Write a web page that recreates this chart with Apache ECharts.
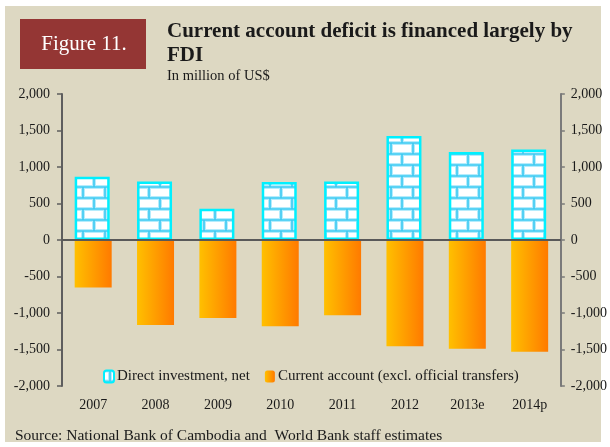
<!DOCTYPE html>
<html>
<head>
<meta charset="utf-8">
<script src="https://cdn.jsdelivr.net/npm/echarts@6/dist/echarts.min.js"></script>
<style>
  html, body { margin: 0; padding: 0; background: #fff; }
  #chart { width: 610px; height: 447px; }
</style>
</head>
<body>
<div id="chart"></div>
<script>
// values (million US$)
const years = ['2007', '2008', '2009', '2010', '2011', '2012', '2013e', '2014p']
const directInvestment = [868, 800, 428, 795, 800, 1425, 1205, 1240]
const currentAccount = [-650, -1165, -1070, -1180, -1030, -1455, -1490, -1530]
const yTicks = { min: -2000, max: 2000, step: 500 }

const serif = '"Liberation Serif", "DejaVu Serif", serif'
const beige = '#DDD8C2'
const textColor = '#1a1a1a'

// light-blue brick texture used for the FDI bars
function brickPattern() {
  const c = document.createElement('canvas')
  c.width = 22
  c.height = 22
  const g = c.getContext('2d')
  g.fillStyle = '#ffffff'
  g.fillRect(0, 0, 22, 22)
  const lines = () => {
    g.beginPath()
    g.moveTo(0, 0); g.lineTo(22, 0)
    g.moveTo(0, 11); g.lineTo(22, 11)
    g.moveTo(0, 22); g.lineTo(22, 22)
    g.moveTo(6, 0); g.lineTo(6, 11)
    g.moveTo(17, 11); g.lineTo(17, 22)
    g.stroke()
  }
  g.strokeStyle = '#b5ecfc'
  g.lineWidth = 4
  lines()
  g.strokeStyle = '#3ccaf2'
  g.lineWidth = 1.6
  lines()
  return c
}

const chart = echarts.init(document.getElementById('chart'), null, { renderer: 'canvas' })

const fmt = v => v.toLocaleString('en-US')

chart.setOption({
  backgroundColor: '#ffffff',
  animation: false,
  textStyle: { fontFamily: serif },
  graphic: [
    { type: 'rect', z: -10, shape: { x: 5, y: 6, width: 596, height: 436 }, style: { fill: beige } },
    { type: 'rect', shape: { x: 20, y: 19, width: 126, height: 50 }, style: { fill: '#943634' } },
    {
      type: 'text', x: 84, y: 44,
      style: { text: 'Figure 11.', fill: '#ffffff', font: '21px ' + serif, align: 'center', verticalAlign: 'middle' }
    },
    {
      type: 'text', x: 15, y: 436,
      style: { text: 'Source: National Bank of Cambodia and  World Bank staff estimates', fill: textColor, font: '15.5px ' + serif, verticalAlign: 'middle' }
    }
  ],
  title: {
    text: 'Current account deficit is financed largely by\nFDI',
    subtext: 'In million of US$',
    left: 167,
    top: 20,
    padding: 0,
    itemGap: 1,
    textStyle: { fontFamily: serif, fontSize: 21, fontWeight: 'bold', color: textColor, lineHeight: 24 },
    subtextStyle: { fontFamily: serif, fontSize: 14.5, color: textColor }
  },
  legend: {
    left: 98,
    top: 364,
    itemWidth: 10,
    itemHeight: 12,
    itemGap: 15,
    textStyle: { fontFamily: serif, fontSize: 15, color: textColor, padding: [0, 0, 0, -2] },
    data: ['Direct investment, net', 'Current account (excl. official transfers)']
  },
  grid: { left: 62, right: 47, top: 94, bottom: 61 },
  xAxis: {
    type: 'category',
    data: years,
    axisLine: { show: false },
    axisTick: { show: false },
    axisLabel: { color: textColor, fontSize: 14, fontFamily: serif, margin: 12 }
  },
  yAxis: [
    {
      type: 'value',
      min: yTicks.min, max: yTicks.max, interval: yTicks.step,
      position: 'left',
      axisLine: { show: true, lineStyle: { color: '#5e5e5e', width: 2 } },
      axisTick: { show: true, length: 5, lineStyle: { color: '#5e5e5e', width: 1.5 } },
      axisLabel: { color: textColor, fontSize: 14, fontFamily: serif, margin: 12, formatter: fmt },
      splitLine: { show: false }
    },
    {
      type: 'value',
      min: yTicks.min, max: yTicks.max, interval: yTicks.step,
      position: 'right',
      axisLine: { show: true, lineStyle: { color: '#7a7a7a', width: 2 } },
      axisTick: { show: true, length: 4, lineStyle: { color: '#7a7a7a', width: 1.5 } },
      axisLabel: { color: textColor, fontSize: 14, fontFamily: serif, margin: 10, formatter: fmt },
      splitLine: { show: false }
    }
  ],
  series: [
    {
      name: 'Direct investment, net',
      type: 'bar',
      data: directInvestment,
      barWidth: 35,
      barGap: '-100%',
      itemStyle: {
        color: { image: brickPattern(), repeat: 'repeat' },
        borderColor: '#00f0ff',
        borderWidth: 2.5
      }
    },
    {
      name: 'Current account (excl. official transfers)',
      type: 'bar',
      data: currentAccount,
      barWidth: 37,
      itemStyle: {
        color: new echarts.graphic.LinearGradient(0, 0, 1, 0, [
          { offset: 0, color: '#ffc000' },
          { offset: 1, color: '#ff7a00' }
        ])
      },
      markLine: {
        silent: true,
        symbol: 'none',
        z: 10,
        label: { show: false },
        lineStyle: { color: '#595959', width: 2, type: 'solid' },
        data: [{ yAxis: 0 }]
      }
    }
  ]
})
</script>
</body>
</html>
